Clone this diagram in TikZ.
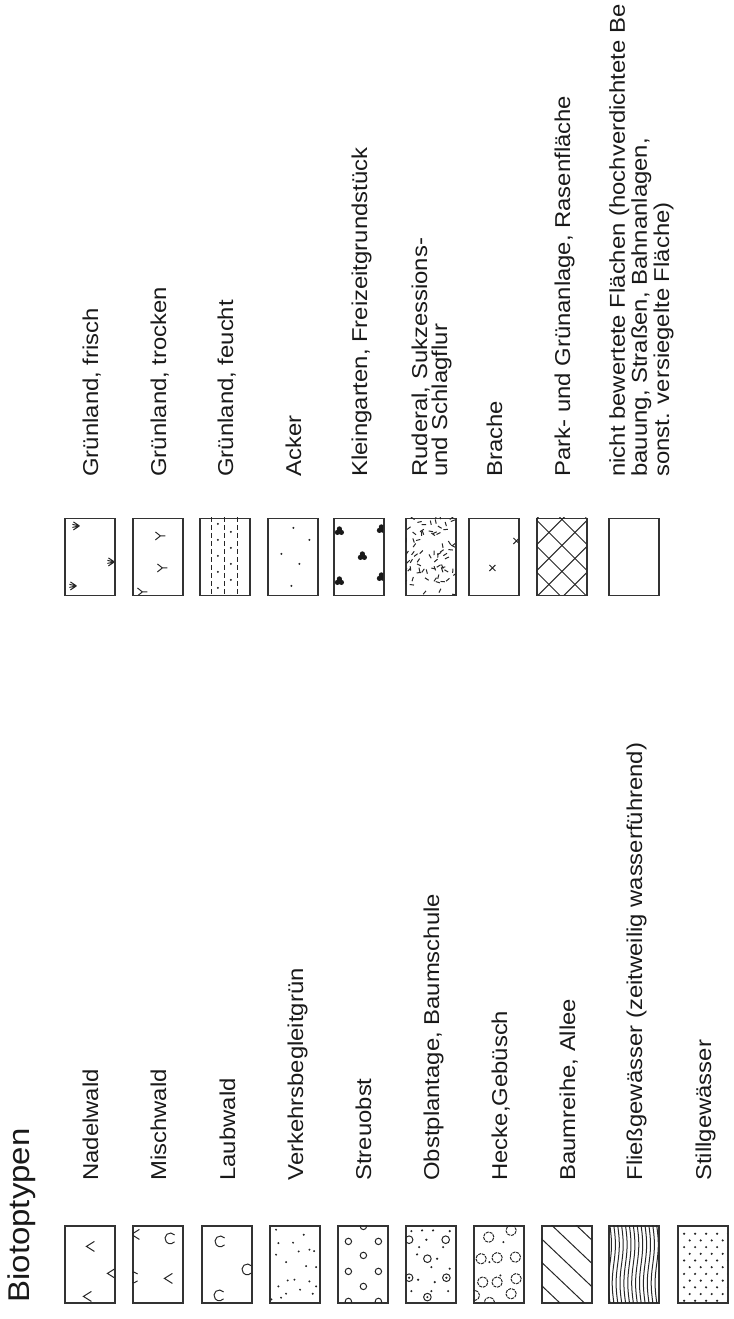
\documentclass[tikz,border=0pt]{standalone}
\usepackage{fontspec}
\setmainfont{Liberation Sans}
\usetikzlibrary{positioning}
\tikzset{
  swatch/.style={
    draw=black!80, line width=0.6pt, rectangle, inner sep=0pt,
    minimum width=25pt, minimum height=38.5pt
  },
  symline/.style={line width=0.5pt, draw=black!85},
  biolabel/.style={
    rotate=90, xscale=1.11, anchor=base west, inner sep=0pt, align=left,
    font=\fontsize{10.75pt}{10pt}\selectfont, text=black!90
  },
  titlelabel/.style={
    rotate=90, xscale=1.1, anchor=base west, inner sep=0pt,
    font=\fontsize{15pt}{16pt}\selectfont, text=black!90
  },
}
% pattern inside a swatch, in px of the swatch, y downwards
\newcommand\patin[2]{\begin{scope}[shift={(#1.north west)}]\clip (0,0) rectangle (50,77);#2\end{scope}}
\newcommand\symConif[2]{\draw[symline, shift={(#1,#2)}] (8,-5) -- (0,0) -- (8,5);}
\newcommand\symLaub[2]{\draw[symline, shift={(#1,#2)}] (40:2.7pt) arc[start angle=40, end angle=320, radius=2.7pt];}
\newcommand\symDot[2]{\fill[black!85] (#1,#2) circle[radius=0.55pt];}
\newcommand\symTuft[2]{\draw[symline, shift={(#1,#2)}] (0,0) -- (-6,-4) (0,0) -- (-7,-1.5) (0,0) -- (-7,1.5) (0,0) -- (-6,4);}
\newcommand\symFork[2]{\draw[symline, shift={(#1,#2)}] (5,0) -- (0,0) -- (-5,-4) (0,0) -- (-5,4);}
\newcommand\symClover[2]{\fill[black!90, shift={(#1,#2)}] (0,-2) circle[radius=1.3pt] (-2,1.5) circle[radius=1.3pt] (2,1.5) circle[radius=1.3pt];}
\newcommand\symCross[2]{\draw[symline, shift={(#1,#2)}] (-3,-3) -- (3,3) (-3,3) -- (3,-3);}

\begin{document}
\begin{tikzpicture}[x=0.5pt, y=-0.5pt]
  \useasboundingbox (0,0) rectangle (734,1319);

  % Title
  \node[titlelabel] (title) at (29,1303) {Biotoptypen};

  % Left column: swatches
  \node[swatch] (ls1) at (90,1264.5) {};
  \node[swatch] (ls2) at (158,1264.5) {};
  \node[swatch] (ls3) at (227,1264.5) {};
  \node[swatch] (ls4) at (295,1264.5) {};
  \node[swatch] (ls5) at (363,1264.5) {};
  \node[swatch] (ls6) at (431,1264.5) {};
  \node[swatch] (ls7) at (499,1264.5) {};
  \node[swatch] (ls8) at (567,1264.5) {};
  \node[swatch] (ls9) at (634,1264.5) {};
  \node[swatch] (ls10) at (703,1264.5) {};

  % Left column: patterns
  \patin{ls1}{\symConif{22}{21}\symConif{43}{48}\symConif{19}{71}}
  \patin{ls2}{\symConif{-1}{9}\symLaub{38}{13}\symConif{32}{53}\symLaub{1}{52}}
  \patin{ls3}{\symLaub{19}{16}\symLaub{46}{44}\symLaub{18}{70}}
  \patin{ls4}{
    \foreach \p in {(6.7,4.3),(34.3,9.3),(9,17.7),(23.7,17.3),(29.3,26),(40,24.3),(44.7,25.7),
      (6.7,29.3),(16.7,36.7),(36.7,40.7),(46.7,41.7),(18.3,55),(25,54.3),(40,56),(9,61),
      (46.7,61),(30.7,64.3),(16.7,68.3),(43.3,68.3),(11.7,72.3),(2,74)}
      \fill[black!85] \p circle[radius=0.55pt];}
  \patin{ls5}{
    \foreach \p in {(11,16),(41,16),(26,1),(26,30),(11,46),(41,46),(26,61),(11,76),(41,76)}
      \draw[symline] \p circle[radius=1.6pt];}
  \patin{ls6}{
    \foreach \p in {(3.7,14.3),(40.3,14.3),(22,33.3),(3.7,52.3),(41,52.3),(22,71.7)}
      \draw[symline] \p circle[radius=1.9pt];
    \foreach \p in {(3.7,52.3),(41,52.3),(22,71.7),(6,5.7),(16.7,5),(27.7,5),(44.3,5.7),(13.7,21.7),
      (21,14.3),(37.7,21.7),(11.7,29),(31.7,33.3),(26,41.7),(12.7,54.3),(29.3,56.7),(44.3,43.3),
      (6,65.7),(26,65.7),(42.7,65.7)}
      \fill[black!85] \p circle[radius=0.6pt];}
  \patin{ls7}{
    \foreach \p in {(15.3,11.7),(37.7,5),(7.7,33.3),(23.7,32.3),(42,31.7),(9.3,56.7),(23.7,56.7),
      (42.7,53.3),(37.7,68.3),(1,70),(16,77)}
      \draw[symline, dash pattern=on 1.5pt off 0.5pt] \p circle[radius=2.6pt];
    \symDot{30}{16.7}\symDot{16}{36.7}\symDot{27}{50}}
  \patin{ls8}{
    \foreach \c in {-33.3,-10,13.3,36.7,60}
      \draw[symline] (-5,{\c-4.75}) -- (55,{\c+52.25});}
  \patin{ls9}{
    \foreach \k in {0,...,12}
      \draw[symline] plot[smooth, domain=-3:80, samples=25] ({1.5+\k*3.9+1.6*sin(\x*4.675)}, \x);}
  \patin{ls10}{
    \foreach \r in {0,...,10} \foreach \c in {0,...,4}
      \fill[black!85] ({6.7+11*\c+5.6*mod(\r,2)}, {8.3+6.7*\r}) circle[radius=0.6pt];}

  % Left column: labels
  \node[biolabel] (lt1) at (98,1181) {Nadelwald};
  \node[biolabel] (lt2) at (166,1181) {Mischwald};
  \node[biolabel] (lt3) at (235,1181) {Laubwald};
  \node[biolabel] (lt4) at (303,1181) {Verkehrsbegleitgrün};
  \node[biolabel] (lt5) at (371,1181) {Streuobst};
  \node[biolabel] (lt6) at (439,1181) {Obstplantage, Baumschule};
  \node[biolabel] (lt7) at (507,1181) {Hecke,Gebüsch};
  \node[biolabel] (lt8) at (575,1181) {Baumreihe, Allee};
  \node[biolabel] (lt9) at (642,1181) {Fließgewässer (zeitweilig wasserführend)};
  \node[biolabel] (lt10) at (711,1181) {Stillgewässer};

  % Right column: swatches
  \node[swatch] (rs1) at (90,557) {};
  \node[swatch] (rs2) at (158,557) {};
  \node[swatch] (rs3) at (225,557) {};
  \node[swatch] (rs4) at (293,557) {};
  \node[swatch] (rs5) at (359,557) {};
  \node[swatch] (rs6) at (431,557) {};
  \node[swatch] (rs7) at (494,557) {};
  \node[swatch] (rs8) at (562,557) {};
  \node[swatch] (rs9) at (634,557) {};

  % Right column: patterns
  \patin{rs1}{\symTuft{15}{8}\symTuft{50}{44}\symTuft{12}{68}}
  \patin{rs2}{\symFork{28}{18}\symFork{30}{50}\symFork{10}{74}}
  \patin{rs3}{
    \foreach \xx in {12,25,38}
      \draw[symline, dash pattern=on 2.5pt off 1.5pt] (\xx,-1) -- (\xx,80);
    \foreach \yy in {6,22,38,54,70} {\symDot{18.5}{\yy}\symDot{31.5}{\yy+8}}}
  \patin{rs4}{\symDot{26}{10}\symDot{14}{36}\symDot{32}{46}\symDot{24}{68}\symDot{42}{22}}
  \patin{rs5}{\symClover{6}{13}\symClover{6}{63}\symClover{29}{38}\symClover{48}{11}\symClover{48}{59}}
  \patin{rs6}{
    \pgfmathsetseed{11}
    \foreach \i in {1,...,80} {
      \pgfmathsetmacro\rx{rnd*54-2}
      \pgfmathsetmacro\ry{rnd*81-2}
      \pgfmathsetmacro\ra{rnd*180}
      \draw[symline] (\rx,\ry) -- ++(\ra:2.2pt);
    }}
  \patin{rs7}{\symCross{24}{50}\symCross{48}{23}}
  \patin{rs8}{
    \foreach \c in {-52,-26,0,26,52,78,104} {
      \draw[symline] (-5,{\c+2-5}) -- (60,{\c+2+60});
      \draw[symline] (-5,{\c+27+5}) -- (60,{\c+27-60});
    }}

  % Right column: labels
  \node[biolabel] (rt1) at (98,477) {Grünland, frisch};
  \node[biolabel] (rt2) at (166,477) {Grünland, trocken};
  \node[biolabel] (rt3) at (233,477) {Grünland, feucht};
  \node[biolabel] (rt4) at (301,477) {Acker};
  \node[biolabel] (rt5) at (367,477) {Kleingarten, Freizeitgrundstück};
  \node[biolabel] (rt6) at (447,477) {Ruderal, Sukzessions-\\und Schlagflur};
  \node[biolabel] (rt7) at (502,477) {Brache};
  \node[biolabel] (rt8) at (570,477) {Park- und Grünanlage, Rasenfläche};
  \node[biolabel] (rt9) at (669,477) {nicht bewertete Flächen (hochverdichtete Be\\bauung, Straßen, Bahnanlagen,\\sonst. versiegelte Fläche)};
\end{tikzpicture}
\end{document}
